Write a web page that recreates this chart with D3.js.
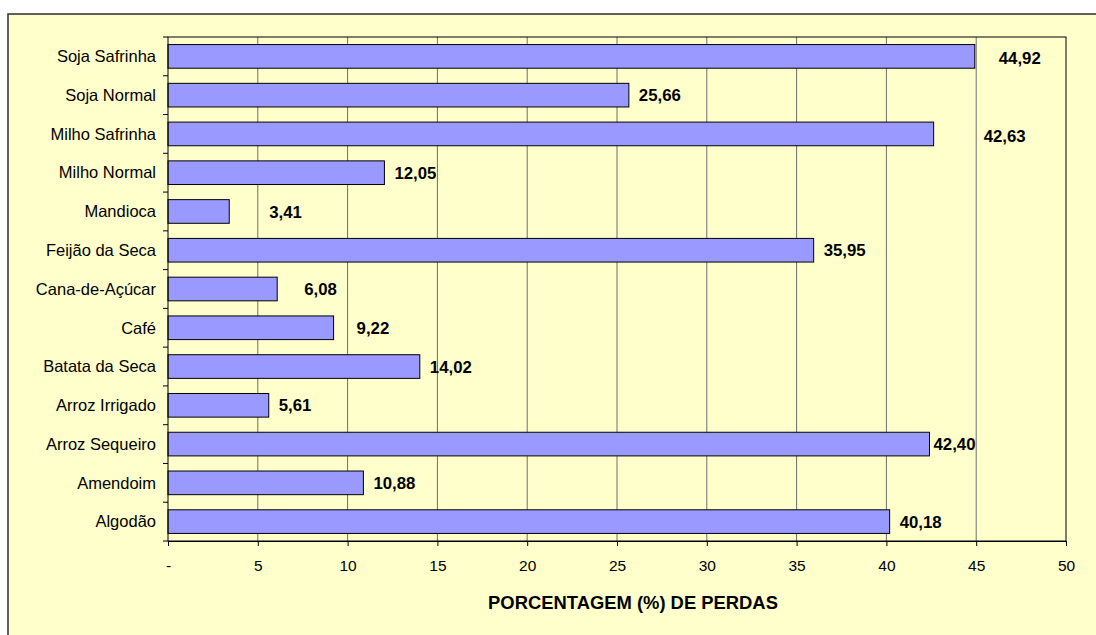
<!DOCTYPE html>
<html>
<head>
<meta charset="utf-8">
<script src="https://cdn.jsdelivr.net/npm/d3@7"></script>
<style>
    html, body { margin: 0; padding: 0; background: #ffffff; }
    svg { display: block; }
    text { font-family: "Liberation Sans", Arial, sans-serif; fill: #000; }
</style>
</head>
<body>
<svg width="1096" height="635"></svg>
<script>
// Culturas, de cima para baixo
const categories = ["Soja Safrinha", "Soja Normal", "Milho Safrinha", "Milho Normal", "Mandioca",
    "Feijão da Seca", "Cana-de-Açúcar", "Café", "Batata da Seca", "Arroz Irrigado",
    "Arroz Sequeiro", "Amendoim", "Algodão"];
const perdas = [44.92, 25.66, 42.63, 12.05, 3.41, 35.95, 6.08, 9.22, 14.02, 5.61, 42.40, 10.88, 40.18];
const xTicks = [0, 5, 10, 15, 20, 25, 30, 35, 40, 45, 50];
const axisTitle = "PORCENTAGEM (%) DE PERDAS";

const svg = d3.select("svg");
const margin = { left: 168, top: 37, right: 1066, bottom: 541 };

// fundo + moldura externa
svg.append("rect")
    .attr("x", 8).attr("y", 14)
    .attr("width", 1100).attr("height", 640)
    .attr("fill", "#FFFFCC")
    .attr("stroke", "#3a3a3a")
    .attr("stroke-width", 1.6);

const x = d3.scaleLinear().domain([0, 50]).range([margin.left, margin.right]);
const y = d3.scaleBand().domain(categories).range([margin.top, margin.bottom]).paddingInner(0.39).paddingOuter(0.195);

// grade vertical
svg.append("g")
    .selectAll("line")
    .data(xTicks.filter(t => t > 0 && t < 50))
    .join("line")
    .attr("x1", d => x(d)).attr("x2", d => x(d))
    .attr("y1", margin.top).attr("y2", margin.bottom)
    .attr("stroke", "#6e6e6e")
    .attr("stroke-width", 1);

// barras
svg.append("g")
    .selectAll("rect")
    .data(perdas)
    .join("rect")
    .attr("x", x(0))
    .attr("y", (d, i) => y(categories[i]))
    .attr("width", d => x(d) - x(0))
    .attr("height", y.bandwidth())
    .attr("fill", "#9999FF")
    .attr("stroke", "#000")
    .attr("stroke-width", 1);

// borda da área do gráfico
svg.append("rect")
    .attr("x", margin.left).attr("y", margin.top)
    .attr("width", margin.right - margin.left)
    .attr("height", margin.bottom - margin.top)
    .attr("fill", "none")
    .attr("stroke", "#000")
    .attr("stroke-width", 1);

// eixo x
const xAxis = d3.axisBottom(x)
    .tickValues(xTicks)
    .tickSize(5)
    .tickFormat(d => d === 0 ? "-" : d);
const gx = svg.append("g")
    .attr("transform", `translate(0,${margin.bottom})`)
    .call(xAxis);
gx.select(".domain").attr("stroke", "#000");
gx.selectAll(".tick line").attr("stroke", "#000");
gx.selectAll("text")
    .attr("dy", null)
    .attr("y", 29.5)
    .style("font-size", "15.5px")
    .style("font-family", "Liberation Sans, Arial, sans-serif");

// eixo y: marcas nas divisas entre categorias
const yBounds = d3.range(categories.length + 1).map(i => margin.top + i * (margin.bottom - margin.top) / categories.length);
svg.append("g")
    .selectAll("line")
    .data(yBounds)
    .join("line")
    .attr("x1", margin.left - 5).attr("x2", margin.left)
    .attr("y1", d => d).attr("y2", d => d)
    .attr("stroke", "#000");

svg.append("g")
    .selectAll("text")
    .data(categories)
    .join("text")
    .attr("x", 156)
    .attr("y", d => y(d) + y.bandwidth() / 2)
    .attr("dy", "0.35em")
    .attr("text-anchor", "end")
    .style("font-size", "16.5px")
    .text(d => d);

// rótulos de valor (alguns foram arrastados no original)
const nudge = { 0: [24, 2], 2: [50, 2.5], 4: [40, 0], 6: [27, 0], 7: [23, 0], 10: [4, 0] };
const fmt = v => v.toFixed(2).replace(".", ",");
svg.append("g")
    .selectAll("text")
    .data(perdas)
    .join("text")
    .attr("x", (d, i) => x(d) + (nudge[i] ? nudge[i][0] : 10))
    .attr("y", (d, i) => y(categories[i]) + y.bandwidth() / 2 + (nudge[i] ? nudge[i][1] : 0))
    .attr("dy", "0.36em")
    .style("font-size", "16.8px")
    .style("font-weight", "bold")
    .text(d => fmt(d));

// título do eixo
svg.append("text")
    .attr("x", 633)
    .attr("y", 609)
    .attr("text-anchor", "middle")
    .style("font-size", "18.4px")
    .style("font-weight", "bold")
    .text(axisTitle);
</script>
</body>
</html>
